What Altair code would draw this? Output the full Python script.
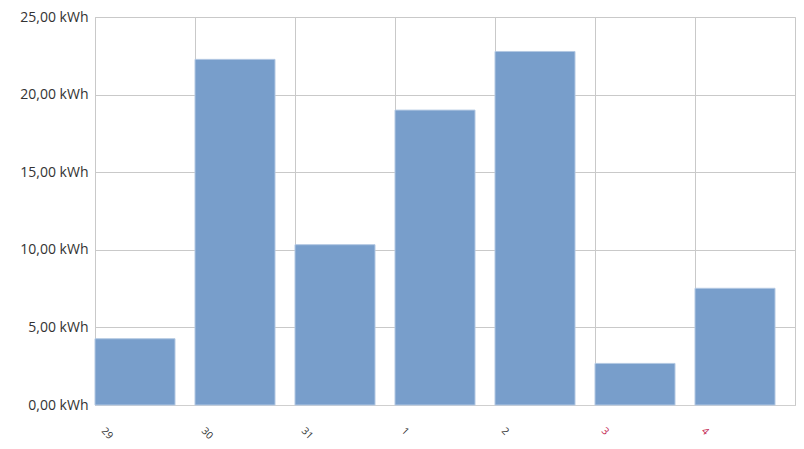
import altair as alt
import pandas as pd

days = ["29", "30", "31", "1", "2", "3", "4"]
energy_kwh = [4.27, 22.27, 10.33, 19.0, 22.78, 2.68, 7.52]
weekend = [False, False, False, False, False, True, True]
y_ticks = [0, 5, 10, 15, 20, 25]

df = pd.DataFrame({"day": days, "kwh": energy_kwh, "weekend": weekend})

FONT = "Open Sans"
GRID = "#c9c9c9"

chart = alt.Chart(df).mark_bar(
    color="#789ecb", stroke="#b3c8e2", strokeWidth=1
).encode(
    x=alt.X(
        "day:N",
        sort=days,
        scale=alt.Scale(paddingInner=0.2, paddingOuter=0.1, align=0),
        axis=alt.Axis(
            title=None,
            bandPosition=0,
            grid=True,
            gridColor=GRID,
            ticks=False,
            domain=True,
            domainColor="#cfcfcf",
            labelAngle=45,
            labelAlign="left",
            labelBaseline="middle",
            labelPadding=24,
            labelOffset=-32,
            labelFont=FONT,
            labelFontSize=10,
            labelColor={
                "condition": {"test": "datum.value == '3' || datum.value == '4'", "value": "#c2214f"},
                "value": "#333333",
            },
        ),
    ),
    y=alt.Y(
        "kwh:Q",
        scale=alt.Scale(domain=[0, 25], nice=False),
        axis=alt.Axis(
            title=None,
            values=y_ticks,
            grid=True,
            gridColor=GRID,
            ticks=False,
            domain=False,
            labelPadding=7,
            labelFont=FONT,
            labelFontSize=14,
            labelColor="#333333",
            labelExpr="replace(format(datum.value, '.2f'), '.', ',') + ' kWh'",
        ),
    ),
).properties(
    width=700,
    height=388,
    autosize=alt.AutoSizeParams(type="none"),
    padding={"left": 87, "top": 9, "right": 1, "bottom": 36},
).configure_view(stroke=GRID, strokeWidth=1)

chart.save("out.html", embed_options={"renderer": "svg", "actions": False})
